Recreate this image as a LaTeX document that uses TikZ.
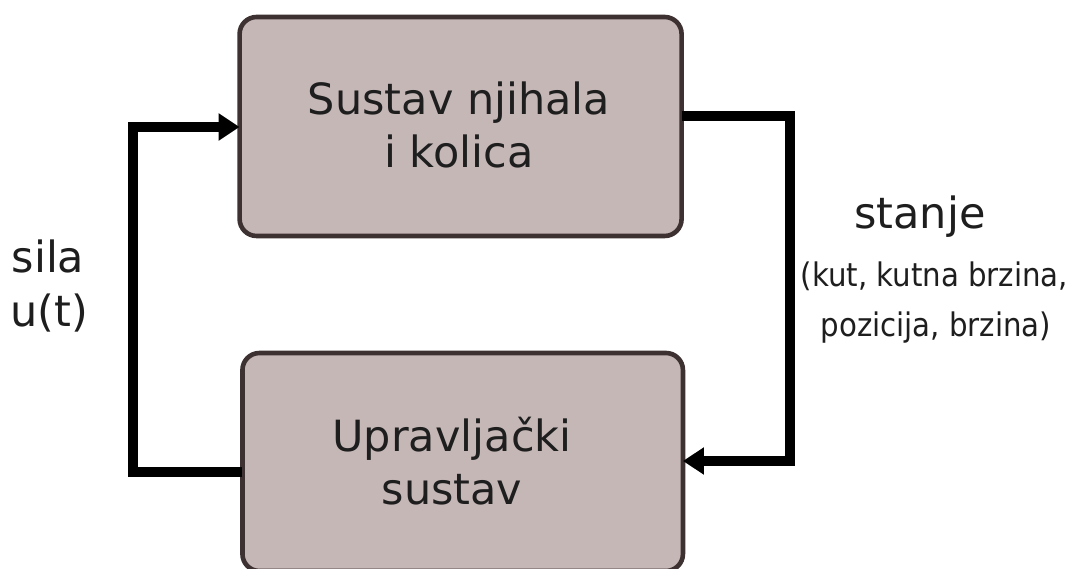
\documentclass[tikz,border=0pt]{standalone}
\usepackage{fontspec}
\setmainfont{DejaVu Sans}
\newfontfamily\condfont{DejaVu Sans Condensed}
\usetikzlibrary{arrows.meta}
\definecolor{boxfill}{HTML}{C6B7B7}
\definecolor{boxline}{HTML}{3D3131}
\definecolor{txt}{HTML}{1E1E1E}
\tikzset{
  block/.style={draw=boxline, fill=boxfill, line width=4.6pt, rounded corners=17pt, outer sep=0pt, inner sep=0pt},
  bigtxt/.style={text=txt, font=\fontsize{43}{53}\selectfont, align=center, inner sep=0pt},
  smalltxt/.style={text=txt, font=\condfont\fontsize{32.5}{40}\selectfont, inner sep=0pt},
  conn/.style={line width=10pt, line join=miter, black},
  tip/.style={-{Triangle[length=21pt,width=26pt]}}
}
\begin{document}
\begin{tikzpicture}[x=1pt,y=-1pt]
\useasboundingbox (0,0) rectangle (1072,569);
\node[block, minimum width=442pt, minimum height=219pt] (top) at (460.6,126.5) {};
\node[block, minimum width=440.5pt, minimum height=218pt] (bot) at (462.7,462) {};
\node[bigtxt] (toptext) at (459,125) {Sustav njihala\\i kolica};
\node[bigtxt] (bottext) at (452,461) {Upravljački\\sustav};
\node[bigtxt, anchor=base] (sila) at (48,273) {sila};
\node[bigtxt, anchor=base] (ut) at (49,327) {u(t)};
\node[bigtxt, anchor=base] (stanje) at (920,229) {stanje};
\node[smalltxt, anchor=base] (st1) at (934.5,287) {(kut, kutna brzina,};
\node[smalltxt, anchor=base] (st2) at (936,337) {pozicija, brzina)};
\coordinate (lb) at (133,472);
\coordinate (lt) at (133,127);
\coordinate (rt) at (789.5,116);
\coordinate (rb) at (789.5,461);
\draw[conn, tip] (bot.west |- lb) -- (lb) -- (lt) -- (top.west |- lt);
\draw[conn, tip] (top.east |- rt) -- (rt) -- (rb) -- (bot.east |- rb);
\end{tikzpicture}
\end{document}
